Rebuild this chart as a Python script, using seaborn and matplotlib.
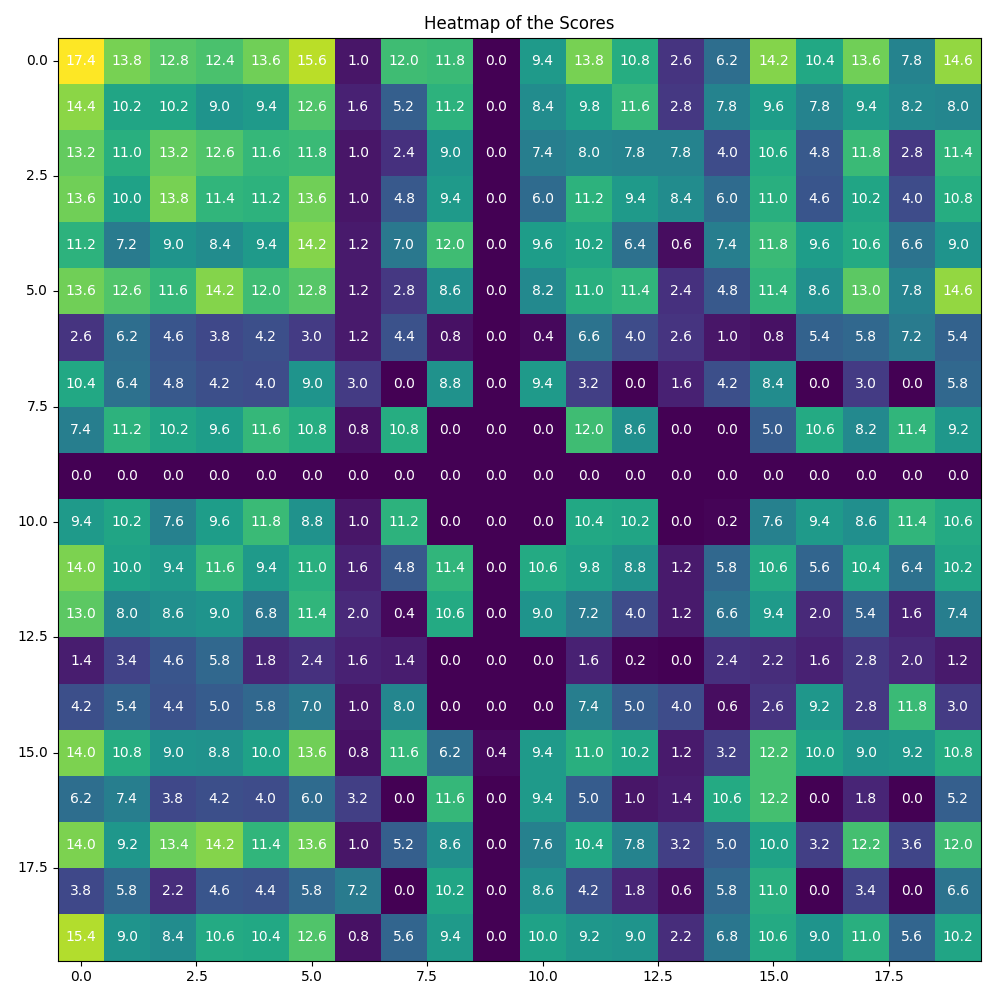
import numpy as np
import matplotlib
matplotlib.use("Agg")
import matplotlib.pyplot as plt
import seaborn as sns

# score grid, rows top to bottom
scores = [
    [17.4, 13.8, 12.8, 12.4, 13.6, 15.6, 1.0, 12.0, 11.8, 0.0, 9.4, 13.8, 10.8, 2.6, 6.2, 14.2, 10.4, 13.6, 7.8, 14.6],
    [14.4, 10.2, 10.2, 9.0, 9.4, 12.6, 1.6, 5.2, 11.2, 0.0, 8.4, 9.8, 11.6, 2.8, 7.8, 9.6, 7.8, 9.4, 8.2, 8.0],
    [13.2, 11.0, 13.2, 12.6, 11.6, 11.8, 1.0, 2.4, 9.0, 0.0, 7.4, 8.0, 7.8, 7.8, 4.0, 10.6, 4.8, 11.8, 2.8, 11.4],
    [13.6, 10.0, 13.8, 11.4, 11.2, 13.6, 1.0, 4.8, 9.4, 0.0, 6.0, 11.2, 9.4, 8.4, 6.0, 11.0, 4.6, 10.2, 4.0, 10.8],
    [11.2, 7.2, 9.0, 8.4, 9.4, 14.2, 1.2, 7.0, 12.0, 0.0, 9.6, 10.2, 6.4, 0.6, 7.4, 11.8, 9.6, 10.6, 6.6, 9.0],
    [13.6, 12.6, 11.6, 14.2, 12.0, 12.8, 1.2, 2.8, 8.6, 0.0, 8.2, 11.0, 11.4, 2.4, 4.8, 11.4, 8.6, 13.0, 7.8, 14.6],
    [2.6, 6.2, 4.6, 3.8, 4.2, 3.0, 1.2, 4.4, 0.8, 0.0, 0.4, 6.6, 4.0, 2.6, 1.0, 0.8, 5.4, 5.8, 7.2, 5.4],
    [10.4, 6.4, 4.8, 4.2, 4.0, 9.0, 3.0, 0.0, 8.8, 0.0, 9.4, 3.2, 0.0, 1.6, 4.2, 8.4, 0.0, 3.0, 0.0, 5.8],
    [7.4, 11.2, 10.2, 9.6, 11.6, 10.8, 0.8, 10.8, 0.0, 0.0, 0.0, 12.0, 8.6, 0.0, 0.0, 5.0, 10.6, 8.2, 11.4, 9.2],
    [0.0] * 20,
    [9.4, 10.2, 7.6, 9.6, 11.8, 8.8, 1.0, 11.2, 0.0, 0.0, 0.0, 10.4, 10.2, 0.0, 0.2, 7.6, 9.4, 8.6, 11.4, 10.6],
    [14.0, 10.0, 9.4, 11.6, 9.4, 11.0, 1.6, 4.8, 11.4, 0.0, 10.6, 9.8, 8.8, 1.2, 5.8, 10.6, 5.6, 10.4, 6.4, 10.2],
    [13.0, 8.0, 8.6, 9.0, 6.8, 11.4, 2.0, 0.4, 10.6, 0.0, 9.0, 7.2, 4.0, 1.2, 6.6, 9.4, 2.0, 5.4, 1.6, 7.4],
    [1.4, 3.4, 4.6, 5.8, 1.8, 2.4, 1.6, 1.4, 0.0, 0.0, 0.0, 1.6, 0.2, 0.0, 2.4, 2.2, 1.6, 2.8, 2.0, 1.2],
    [4.2, 5.4, 4.4, 5.0, 5.8, 7.0, 1.0, 8.0, 0.0, 0.0, 0.0, 7.4, 5.0, 4.0, 0.6, 2.6, 9.2, 2.8, 11.8, 3.0],
    [14.0, 10.8, 9.0, 8.8, 10.0, 13.6, 0.8, 11.6, 6.2, 0.4, 9.4, 11.0, 10.2, 1.2, 3.2, 12.2, 10.0, 9.0, 9.2, 10.8],
    [6.2, 7.4, 3.8, 4.2, 4.0, 6.0, 3.2, 0.0, 11.6, 0.0, 9.4, 5.0, 1.0, 1.4, 10.6, 12.2, 0.0, 1.8, 0.0, 5.2],
    [14.0, 9.2, 13.4, 14.2, 11.4, 13.6, 1.0, 5.2, 8.6, 0.0, 7.6, 10.4, 7.8, 3.2, 5.0, 10.0, 3.2, 12.2, 3.6, 12.0],
    [3.8, 5.8, 2.2, 4.6, 4.4, 5.8, 7.2, 0.0, 10.2, 0.0, 8.6, 4.2, 1.8, 0.6, 5.8, 11.0, 0.0, 3.4, 0.0, 6.6],
    [15.4, 9.0, 8.4, 10.6, 10.4, 12.6, 0.8, 5.6, 9.4, 0.0, 10.0, 9.2, 9.0, 2.2, 6.8, 10.6, 9.0, 11.0, 5.6, 10.2],
]
tick_values = [0.0, 2.5, 5.0, 7.5, 10.0, 12.5, 15.0, 17.5]

data = np.array(scores)

fig, ax = plt.subplots(figsize=(10, 10), dpi=100)
sns.heatmap(data, cmap="viridis", annot=True, fmt=".1f", cbar=False, square=True,
            annot_kws={"color": "white", "fontsize": 10}, ax=ax)

# imshow-style axes: ticks at cell centres, visible frame
ax.set_xticks([v + 0.5 for v in tick_values])
ax.set_xticklabels([f"{v:.1f}" for v in tick_values], rotation=0)
ax.set_yticks([v + 0.5 for v in tick_values])
ax.set_yticklabels([f"{v:.1f}" for v in tick_values], rotation=0)
for s in ax.spines.values():
    s.set_visible(True)
    s.set_color("black")

ax.set_title("Heatmap of the Scores", fontsize=12)
fig.subplots_adjust(left=0.058, right=0.981, top=0.963, bottom=0.039)
fig.savefig("out.png", dpi=100)
